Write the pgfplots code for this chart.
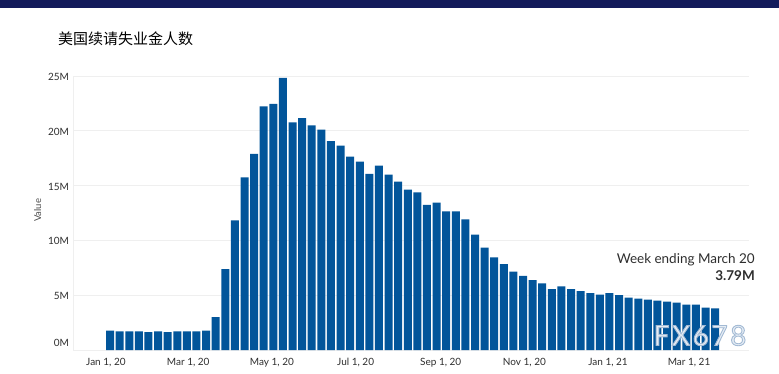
\documentclass[border=0pt]{standalone}
\usepackage{fontspec}
\setmainfont{Lato}
\newfontfamily\cjk{Noto Sans CJK SC}
\newfontfamily\wmfont[LetterSpace=9]{Lato}
\usepackage{pgfplots}
\pgfplotsset{compat=1.18}
\definecolor{barblue}{HTML}{02559A}
\definecolor{navy}{HTML}{131B5B}
\definecolor{gridc}{HTML}{EFEFEF}
\definecolor{txt}{HTML}{2E2E2E}
\definecolor{wm}{HTML}{E6EDF5}
\begin{document}
\begin{tikzpicture}[x=1pt,y=1pt]
\useasboundingbox (0,0) rectangle (779,373);
\fill[white] (0,0) rectangle (779,373);
\fill[navy] (0,365) rectangle (779,373);
\node[anchor=west, inner sep=0] at (58,334) {\cjk\fontsize{15}{18}\selectfont 美国续请失业金人数};
\begin{axis}[at={(73pt,23pt)}, anchor=south west, scale only axis,
  width=676pt, height=274pt,
  xmin=-24, xmax=468.7, ymin=0, ymax=25,
  axis line style={draw=none}, major tick length=0pt,
  ytick={0,5,10,15,20,25},
  yticklabels={\raisebox{4.5pt}[0pt][0pt]{0M},5M,10M,15M,20M,25M},
  xtick={0,60,121,182,244,305,366,425},
  xticklabels={{Jan 1, 20},{Mar 1, 20},{May 1, 20},{Jul 1, 20},{Sep 1, 20},{Nov 1, 20},{Jan 1, 21},{Mar 1, 21}},
  ymajorgrids, grid style={gridc, line width=0.8pt},
  tick label style={font=\fontsize{10}{11}\selectfont, text=txt},
  xticklabel style={yshift=-4.5pt},
  yticklabel style={yshift=-1pt, xshift=-0.5pt},
  /pgf/number format/assume math mode=true,
  ylabel={Value},
  ylabel style={font=\fontsize{9.5}{10}\selectfont, text=txt!85, at={(ticklabel cs:0.51)}, anchor=south, yshift=0pt},
  clip=false]
\draw[gridc, line width=0.6pt] (rel axis cs:0,0) -- (rel axis cs:0,1);
\addplot[ybar, bar width=8pt, fill=barblue, draw=none] coordinates {
(3,1.76) (10,1.70) (17,1.70) (24,1.70) (31,1.64) (38,1.70) (45,1.64) (52,1.70)
(59,1.70) (66,1.70) (73,1.76) (80,3.01) (87,7.38) (94,11.82) (101,15.74) (108,17.89)
(115,22.24) (122,22.45) (129,24.82) (136,20.78) (143,21.15) (150,20.50) (157,20.10) (164,19.06)
(171,18.64) (178,17.64) (185,17.18) (192,16.06) (199,16.82) (206,16.00) (213,15.36) (220,14.64)
(227,14.39) (234,13.24) (241,13.45) (248,12.64) (255,12.64) (262,11.91) (269,10.52) (276,9.33)
(283,8.45) (290,7.83) (297,7.16) (304,6.77) (311,6.38) (318,6.07) (325,5.55) (332,5.80)
(339,5.55) (346,5.37) (353,5.18) (360,5.06) (367,5.18) (374,5.00) (381,4.79) (388,4.69)
(395,4.60) (402,4.51) (409,4.42) (416,4.33) (423,4.14) (430,4.14) (437,3.87) (444,3.79)
};
\end{axis}
\node[anchor=east, inner sep=0, text=txt] at (755,113.5) {\fontsize{13.5}{15}\selectfont Week ending March 20};
\node[anchor=east, inner sep=0, text=txt] at (755,97.5) {\fontsize{13.5}{15}\selectfont\bfseries 3.79M};
% watermark: filled and stroked text
\node[inner sep=0, text=wm] at (700,37.5) {\special{pdf:code q 2 Tr 0.9 w 0.64 0.73 0.83 RG}\wmfont\fontsize{28}{30}\selectfont FX678\special{pdf:code 0 Tr Q}};
\end{tikzpicture}
\end{document}
